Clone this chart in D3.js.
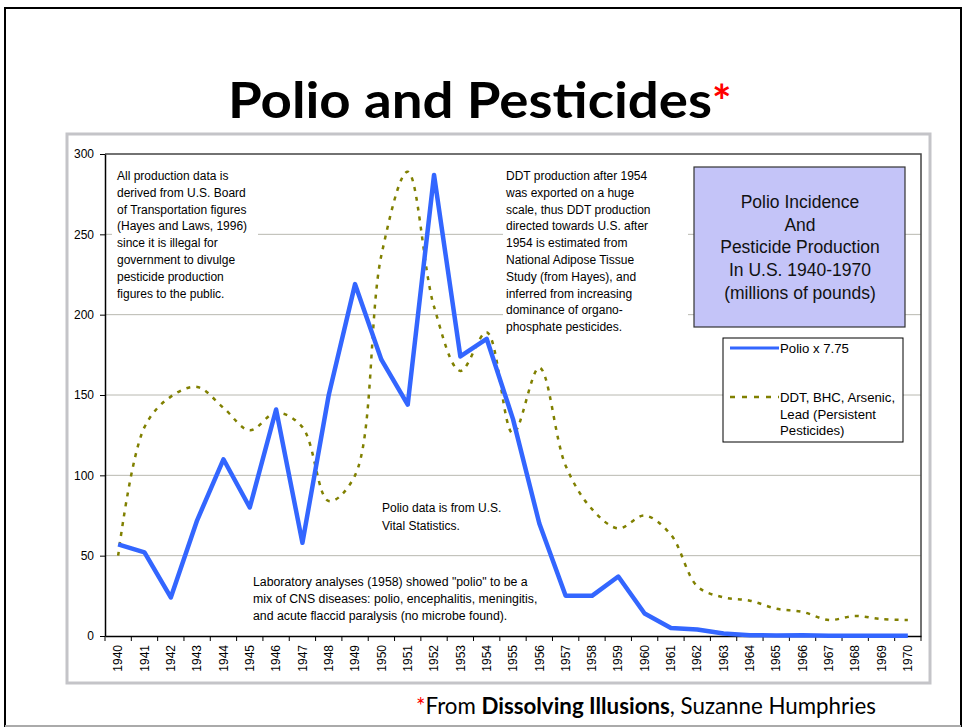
<!DOCTYPE html>
<html>
<head>
<meta charset="utf-8">
<script src="https://cdn.jsdelivr.net/npm/d3@7/dist/d3.min.js"></script>
<style>
  body { margin: 0; background: #fff; }
  svg { display: block; }
</style>
</head>
<body>
<script>
// years on the x axis
var years = d3.range(1940, 1971).map(String);

// Polio incidence (x 7.75)
var polio = [57, 52, 24, 72, 110, 80, 141, 58, 150, 219,
  172, 144, 287, 174, 185, 135, 70, 25, 25, 37,
  14, 5, 4, 1.5, 0.5, 0.3, 0.5, 0.2, 0.2, 0.1, 0.1];

// DDT, BHC, Arsenic, Lead production, millions of pounds
var pesticides = [50, 130, 149, 155, 142, 128, 139, 130, 84, 100,
  237, 289, 205, 165, 189, 126, 167, 106, 79, 67,
  75, 63, 31, 24, 22, 17, 15, 10, 12.5, 10.5, 10];

var yTicks = [0, 50, 100, 150, 200, 250, 300];

var noteProduction = ['All production data is', 'derived from U.S. Board', 'of Transportation figures',
  '(Hayes and Laws, 1996)', 'since it is illegal for', 'government to divulge',
  'pesticide production', 'figures to the public.'];
var noteDDT = ['DDT production after 1954', 'was exported on a huge', 'scale, thus DDT production',
  'directed towards U.S. after', '1954 is estimated  from', 'National Adipose Tissue',
  'Study (from Hayes), and', 'inferred from increasing', 'dominance of organo-',
  'phosphate pesticides.'];
var noteVital = ['Polio data is from U.S.', 'Vital Statistics.'];
var noteLab = ['Laboratory analyses (1958) showed "polio" to be a',
  'mix of CNS diseases: polio, encephalitis, meningitis,',
  'and acute flaccid paralysis (no microbe found).'];
var boxTitle = ['Polio Incidence', 'And', 'Pesticide Production', 'In U.S. 1940-1970', '(millions of pounds)'];

(function() {
  var width = 964, height = 727;
  var font = 'Liberation Sans, Arial, sans-serif';

  var svg = d3.select('body').append('svg')
    .attr('width', width)
    .attr('height', height);

  // slide frame
  svg.append('rect').attr('x', 5).attr('y', 8).attr('width', 956).attr('height', 718)
    .attr('fill', '#fff').attr('stroke', '#000').attr('stroke-width', 2);
  svg.append('line').attr('x1', 5).attr('x2', 961).attr('y1', 726).attr('y2', 726)
    .attr('stroke', '#aaa').attr('stroke-width', 2);

  // title
  var title = svg.append('text')
    .attr('x', 228).attr('y', 118)
    .attr('font-family', 'Lato, Open Sans, sans-serif')
    .attr('font-weight', 'bold')
    .attr('font-size', 50);
  title.append('tspan').text('Polio and Pesticides')
    .attr('textLength', 484).attr('lengthAdjust', 'spacingAndGlyphs');
  title.append('tspan').text('*').attr('fill', '#f00').attr('font-size', 46);

  // chart frame
  svg.append('rect').attr('x', 67).attr('y', 134).attr('width', 863).attr('height', 549)
    .attr('fill', '#fff').attr('stroke', '#c4c4c8').attr('stroke-width', 3);

  var pl = 105, pr = 921, pt = 154, pb = 636;

  var x = d3.scaleBand().domain(years).range([pl, pr]);
  var y = d3.scaleLinear().domain([0, 300]).range([pb, pt]);

  // grid
  svg.append('g').selectAll('line').data(yTicks.slice(1, -1)).enter().append('line')
    .attr('x1', pl).attr('x2', pr)
    .attr('y1', function(d) { return y(d); })
    .attr('y2', function(d) { return y(d); })
    .attr('stroke', '#b8b8b0').attr('stroke-width', 1);

  // plot border top and right
  svg.append('path')
    .attr('d', 'M' + pl + ',' + y(300) + 'H' + pr + 'V' + y(0))
    .attr('fill', 'none').attr('stroke', '#444').attr('stroke-width', 1.5);

  // y axis
  var yAxis = svg.append('g')
    .attr('transform', 'translate(' + pl + ',0)')
    .call(d3.axisLeft(y).tickValues(yTicks).tickSize(5).tickSizeOuter(0));
  yAxis.selectAll('text').attr('font-family', font).attr('font-size', 12).attr('fill', '#000').attr('dx', -3);
  yAxis.selectAll('line, path').attr('stroke', '#000');
  yAxis.select('path').attr('stroke-width', 1.5);

  // x axis with ticks between categories
  var xAxis = svg.append('g')
    .attr('transform', 'translate(0,' + pb + ')')
    .call(d3.axisBottom(x).tickSize(0).tickSizeOuter(0));
  xAxis.select('path').attr('stroke', '#000').attr('stroke-width', 1.5);
  xAxis.selectAll('text')
    .attr('font-family', font).attr('font-size', 12).attr('fill', '#000')
    .attr('transform', 'rotate(-90)')
    .attr('text-anchor', 'end')
    .attr('x', -9).attr('y', 0).attr('dy', '0.35em');
  xAxis.selectAll('.bound').data(years.concat(['end'])).enter().append('line')
    .attr('class', 'bound')
    .attr('x1', function(d, i) { return pl + i * x.step(); })
    .attr('x2', function(d, i) { return pl + i * x.step(); })
    .attr('y1', 0).attr('y2', 5)
    .attr('stroke', '#000');

  // white text boxes
  svg.append('rect').attr('x', 112).attr('y', 166).attr('width', 146).attr('height', 140).attr('fill', '#fff');
  svg.append('rect').attr('x', 503).attr('y', 166).attr('width', 185).attr('height', 172).attr('fill', '#fff');

  function note(lines, x0, y0, lh, size) {
    var t = svg.append('text').attr('font-family', font).attr('font-size', size).attr('fill', '#000');
    t.selectAll('tspan').data(lines).enter().append('tspan')
      .attr('x', x0)
      .attr('y', function(d, i) { return y0 + i * lh; })
      .text(function(d) { return d; });
    return t;
  }

  note(noteProduction, 117, 180, 16.8, 12);
  note(noteDDT, 506, 180, 16.8, 12);
  note(noteVital, 382, 512, 17.5, 12);
  note(noteLab, 253, 586, 17, 12.3);

  // lines
  var line = function(vals, curve) {
    return d3.line()
      .x(function(d, i) { return x(years[i]) + x.bandwidth() / 2; })
      .y(function(d) { return y(d); })
      .curve(curve)(vals);
  };

  svg.append('path')
    .attr('d', line(pesticides, d3.curveCatmullRom.alpha(0.5)))
    .attr('fill', 'none').attr('stroke', '#808000').attr('stroke-width', 2.5)
    .attr('stroke-dasharray', '4,6');

  svg.append('path')
    .attr('d', line(polio, d3.curveLinear))
    .attr('fill', 'none').attr('stroke', '#3366ff').attr('stroke-width', 4.5)
    .attr('stroke-linejoin', 'round');

  // purple title box
  svg.append('rect').attr('x', 694).attr('y', 167).attr('width', 211).attr('height', 160)
    .attr('fill', '#c4c4f8').attr('stroke', '#333').attr('stroke-width', 1.2);
  var bt = svg.append('text').attr('font-family', font).attr('font-size', 17.5).attr('fill', '#111')
    .attr('text-anchor', 'middle');
  bt.selectAll('tspan').data(boxTitle).enter().append('tspan')
    .attr('x', 800)
    .attr('y', function(d, i) { return 208 + i * 22.7; })
    .text(function(d) { return d; });

  // legend
  var lg = svg.append('g');
  lg.append('rect').attr('x', 723).attr('y', 338).attr('width', 180).attr('height', 104)
    .attr('fill', '#fff').attr('stroke', '#000').attr('stroke-width', 1);
  lg.append('line').attr('x1', 730).attr('x2', 779).attr('y1', 348).attr('y2', 348)
    .attr('stroke', '#3366ff').attr('stroke-width', 3);
  lg.append('line').attr('x1', 730).attr('x2', 779).attr('y1', 397).attr('y2', 397)
    .attr('stroke', '#808000').attr('stroke-width', 2.5).attr('stroke-dasharray', '5,7');
  note(['Polio x 7.75'], 780, 353, 16.5, 13.2);
  note(['DDT, BHC, Arsenic,', 'Lead (Persistent', 'Pesticides)'], 780, 402, 16.5, 13.2);

  // footer
  var ft = svg.append('text')
    .attr('x', 416).attr('y', 714)
    .attr('font-family', 'Lato, Open Sans, sans-serif')
    .attr('font-size', 22.3).attr('fill', '#000');
  ft.append('tspan').text('*').attr('fill', '#f00');
  ft.append('tspan').text('From ');
  ft.append('tspan').text('Dissolving Illusions').attr('font-weight', 'bold');
  ft.append('tspan').text(', Suzanne Humphries');
})();
</script>
</body>
</html>
